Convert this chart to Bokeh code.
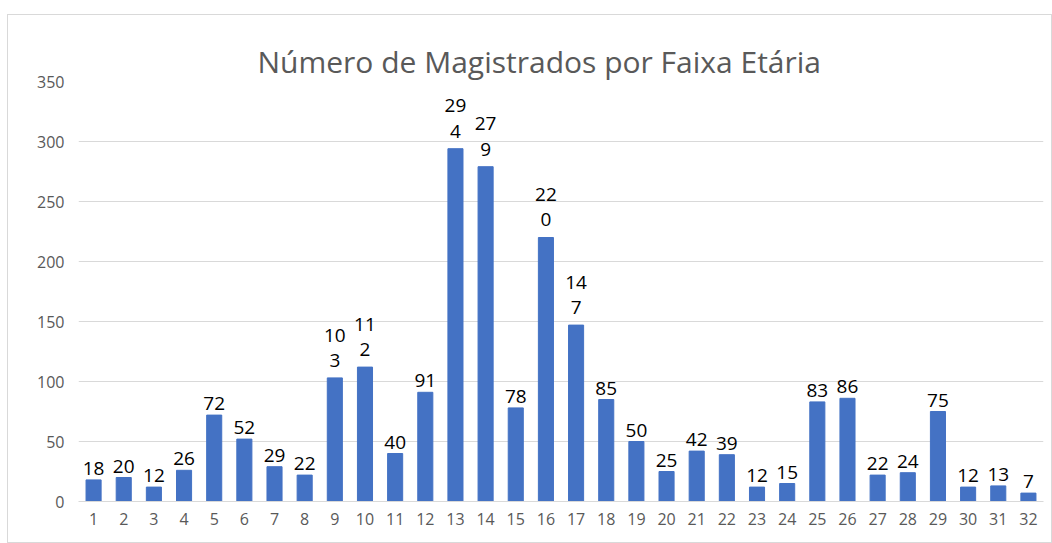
from bokeh.plotting import figure
from bokeh.models import ColumnDataSource, Range1d, FixedTicker, Spacer, LinearAxis
from bokeh.layouts import column, row
from bokeh.core.properties import value
from bokeh.embed import file_html
from bokeh.resources import INLINE

categories = list(range(1, 33))
counts = [18, 20, 12, 26, 72, 52, 29, 22, 103, 112, 40, 91, 294, 279, 78, 220,
          147, 85, 50, 25, 42, 39, 12, 15, 83, 86, 22, 24, 75, 12, 13, 7]
y_ticks = [0, 50, 100, 150, 200, 250, 300, 350]
title_text = "Número de Magistrados por Faixa Etária"

# Excel wraps three-digit labels onto two lines
labels = [f"{v // 10}\n{v % 10}" if v >= 100 else str(v) for v in counts]

src = ColumnDataSource(dict(x=categories, top=counts, lab=labels))

FONT = "Open Sans"

p = figure(width=1045, height=529, output_backend="svg", toolbar_location=None,
           x_range=Range1d(0.5, 32.5), y_range=Range1d(0, 350),
           min_border_left=70, min_border_right=10, min_border_top=66,
           min_border_bottom=43, title=title_text)

# invisible spacer axis between the frame and the title
gap = LinearAxis(ticker=FixedTicker(ticks=[]), axis_line_color=None,
                 major_tick_line_color=None, minor_tick_line_color=None,
                 major_tick_out=22, major_tick_in=0, minor_tick_out=0,
                 minor_tick_in=0, major_label_standoff=0)
p.add_layout(gap, "above")

p.title.align = "left"
p.title.offset = 179
p.title.text_font = FONT
p.title.text_font_size = "30px"
p.title.text_font_style = "normal"
p.title.text_color = "#595959"
p.title.standoff = 0

p.vbar(x="x", top="top", width=0.5, source=src, color="#4472C4")
p.text(x="x", y="top", text="lab", source=src, text_align="center",
       text_baseline="bottom", y_offset=-5, text_font=value(FONT),
       text_font_size="19px", text_color="#000000", text_line_height=0.97)

p.outline_line_color = None
p.xgrid.grid_line_color = None
p.ygrid.grid_line_color = "#d9d9d9"
p.ygrid.ticker = FixedTicker(ticks=y_ticks)

p.yaxis.ticker = FixedTicker(ticks=y_ticks)
p.yaxis.axis_line_color = None
p.yaxis.major_tick_line_color = None
p.yaxis.minor_tick_line_color = None
p.yaxis.major_label_text_font = FONT
p.yaxis.major_label_text_font_size = "16px"
p.yaxis.major_label_text_color = "#595959"
p.yaxis.major_label_standoff = 8

p.below[0].ticker = FixedTicker(ticks=categories)
p.below[0].axis_line_color = "#d9d9d9"
p.below[0].major_tick_line_color = None
p.below[0].minor_tick_line_color = None
p.below[0].major_label_text_font = FONT
p.below[0].major_label_text_font_size = "16px"
p.below[0].major_label_text_color = "#595959"
p.below[0].major_label_standoff = 5

p.styles = {"border": "1px solid #d9d9d9", "box-sizing": "border-box"}

layout = row(Spacer(width=7, height=10),
             column(Spacer(height=14, width=10), p, spacing=0),
             spacing=0)

open("out.html", "w").write(file_html(layout, INLINE))
